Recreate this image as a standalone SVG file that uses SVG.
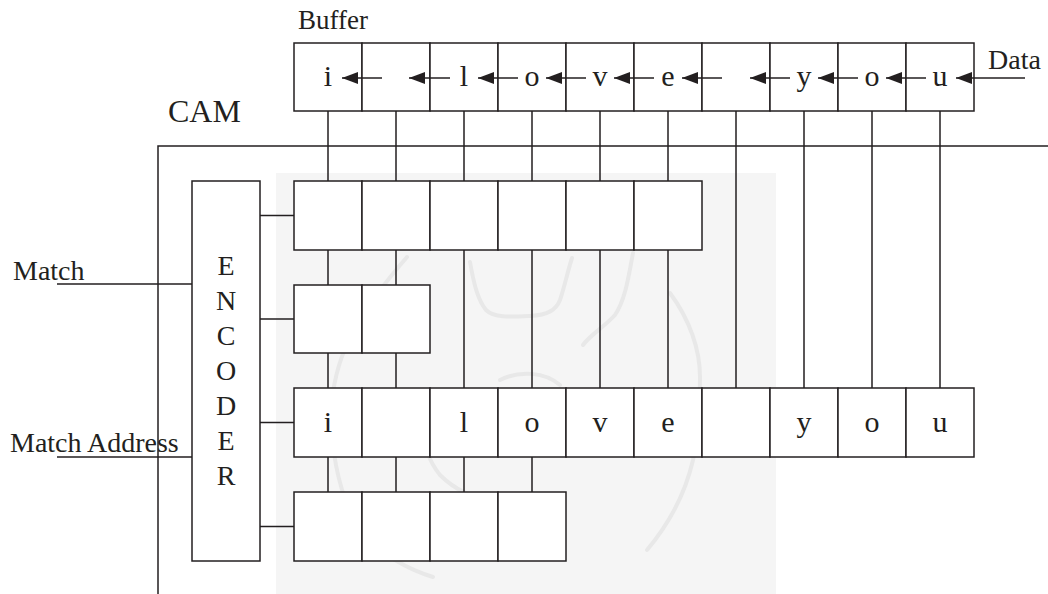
<svg xmlns="http://www.w3.org/2000/svg" width="1048" height="594" viewBox="0 0 1048 594">
  <style>
    .cell { fill: #ffffff; stroke: #231f20; stroke-width: 1.5; }
    .wire { fill: none; stroke: #231f20; stroke-width: 1.5; }
    .arr { fill: none; stroke: #231f20; stroke-width: 1.5; marker-end: url(#ah); }
    .lbl { font-family: "Liberation Serif", "Times New Roman", serif; fill: #231f20; }
    .ch { font-family: "Liberation Serif", "Times New Roman", serif; font-size: 30px; fill: #231f20; text-anchor: middle; }
    .enc { font-family: "Liberation Serif", "Times New Roman", serif; font-size: 28px; fill: #231f20; text-anchor: middle; }
    .wm { fill: none; stroke: #e8e8e8; stroke-width: 4; stroke-linecap: round; }
  </style>
  <defs>
    <marker id="ah" markerUnits="userSpaceOnUse" viewBox="0 0 16 12" refX="16" refY="6" markerWidth="16" markerHeight="12" orient="auto">
      <path d="M0,0 L16,6 L0,12 z" fill="#231f20"/>
    </marker>
  </defs>
  <rect width="1048" height="594" fill="#ffffff"/>

  <g id="watermark">
    <rect x="276" y="173" width="500" height="421" fill="#f5f5f5"/>
    <path class="wm" d="M407,257 C370,300 340,340 333,393 C328,440 337,493 360,530 C380,555 410,570 433,577"/>
    <path class="wm" d="M670,293 C690,320 700,350 700,377 C700,410 697,440 693,460 C685,495 668,525 647,550"/>
    <path class="wm" d="M470,262 C474,285 478,300 486,310 C494,318 510,317 530,316 C548,315 556,310 560,300 C565,285 568,270 572,258"/>
    <path class="wm" d="M633,253 C628,280 625,300 615,315 C603,328 590,335 583,345"/>
    <path class="wm" d="M430,390 C420,420 420,450 440,475 C470,505 520,510 560,495"/>
    <path class="wm" d="M500,380 C520,370 545,372 560,385"/>
  </g>

  <g id="connectors">
    <path class="wire" d="M328,111 V181 M396,111 V181 M464,111 V181 M532,111 V181 M600,111 V181 M668,111 V181"/>
    <path class="wire" d="M736,111 V388 M804,111 V388 M872,111 V388 M940,111 V388"/>
    <path class="wire" d="M328,250 V285 M396,250 V285"/>
    <path class="wire" d="M464,250 V388 M532,250 V388 M600,250 V388 M668,250 V388"/>
    <path class="wire" d="M328,353 V388 M396,353 V388"/>
    <path class="wire" d="M328,457 V492 M396,457 V492 M464,457 V492 M532,457 V492"/>
    <path class="wire" d="M260,215.5 H294 M260,319 H294 M260,422.5 H294 M260,526.5 H294"/>
    <path class="wire" d="M57,284 H192 M57,457 H192"/>
    <path class="wire" d="M158,594 V146 H1048"/>
  </g>

  <g id="buffer">
    <rect class="cell" x="294" y="43" width="68" height="68"/>
    <rect class="cell" x="362" y="43" width="68" height="68"/>
    <rect class="cell" x="430" y="43" width="68" height="68"/>
    <rect class="cell" x="498" y="43" width="68" height="68"/>
    <rect class="cell" x="566" y="43" width="68" height="68"/>
    <rect class="cell" x="634" y="43" width="68" height="68"/>
    <rect class="cell" x="702" y="43" width="68" height="68"/>
    <rect class="cell" x="770" y="43" width="68" height="68"/>
    <rect class="cell" x="838" y="43" width="68" height="68"/>
    <rect class="cell" x="906" y="43" width="68" height="68"/>
    <text class="ch" x="328" y="86">i</text>
    <text class="ch" x="464" y="86">l</text>
    <text class="ch" x="532" y="86">o</text>
    <text class="ch" x="600" y="86">v</text>
    <text class="ch" x="668" y="86">e</text>
    <text class="ch" x="804" y="86">y</text>
    <text class="ch" x="872" y="86">o</text>
    <text class="ch" x="940" y="86">u</text>
  </g>
  <g id="buffer-arrows">
    <path class="arr" d="M1025,78 H956"/>
    <path class="arr" d="M926,78 H886"/>
    <path class="arr" d="M858,78 H818"/>
    <path class="arr" d="M790,78 H750"/>
    <path class="arr" d="M722,78 H682"/>
    <path class="arr" d="M654,78 H614"/>
    <path class="arr" d="M586,78 H546"/>
    <path class="arr" d="M518,78 H478"/>
    <path class="arr" d="M450,78 H409"/>
    <path class="arr" d="M382,78 H342"/>
  </g>

  <g id="cam-row1">
    <rect class="cell" x="294" y="181" width="68" height="69"/>
    <rect class="cell" x="362" y="181" width="68" height="69"/>
    <rect class="cell" x="430" y="181" width="68" height="69"/>
    <rect class="cell" x="498" y="181" width="68" height="69"/>
    <rect class="cell" x="566" y="181" width="68" height="69"/>
    <rect class="cell" x="634" y="181" width="68" height="69"/>
  </g>
  <g id="cam-row2">
    <rect class="cell" x="294" y="285" width="68" height="68"/>
    <rect class="cell" x="362" y="285" width="68" height="68"/>
  </g>
  <g id="cam-row3">
    <rect class="cell" x="294" y="388" width="68" height="69"/>
    <rect class="cell" x="362" y="388" width="68" height="69"/>
    <rect class="cell" x="430" y="388" width="68" height="69"/>
    <rect class="cell" x="498" y="388" width="68" height="69"/>
    <rect class="cell" x="566" y="388" width="68" height="69"/>
    <rect class="cell" x="634" y="388" width="68" height="69"/>
    <rect class="cell" x="702" y="388" width="68" height="69"/>
    <rect class="cell" x="770" y="388" width="68" height="69"/>
    <rect class="cell" x="838" y="388" width="68" height="69"/>
    <rect class="cell" x="906" y="388" width="68" height="69"/>
    <text class="ch" x="328" y="432">i</text>
    <text class="ch" x="464" y="432">l</text>
    <text class="ch" x="532" y="432">o</text>
    <text class="ch" x="600" y="432">v</text>
    <text class="ch" x="668" y="432">e</text>
    <text class="ch" x="804" y="432">y</text>
    <text class="ch" x="872" y="432">o</text>
    <text class="ch" x="940" y="432">u</text>
  </g>
  <g id="cam-row4">
    <rect class="cell" x="294" y="492" width="68" height="69"/>
    <rect class="cell" x="362" y="492" width="68" height="69"/>
    <rect class="cell" x="430" y="492" width="68" height="69"/>
    <rect class="cell" x="498" y="492" width="68" height="69"/>
  </g>

  <g id="encoder">
    <rect class="cell" x="192" y="181" width="68" height="380"/>
    <text class="enc" x="226" y="275">E</text>
    <text class="enc" x="226" y="310">N</text>
    <text class="enc" x="226" y="345">C</text>
    <text class="enc" x="226" y="380">O</text>
    <text class="enc" x="226" y="415">D</text>
    <text class="enc" x="226" y="450">E</text>
    <text class="enc" x="226" y="485">R</text>
  </g>

  <g id="labels">
    <text class="lbl" x="298" y="29" font-size="27">Buffer</text>
    <text class="lbl" x="988" y="69" font-size="28">Data</text>
    <text class="lbl" x="168" y="122" font-size="32">CAM</text>
    <text class="lbl" x="13" y="280" font-size="28">Match</text>
    <text class="lbl" x="10" y="452" font-size="28">Match Address</text>
  </g>
</svg>
